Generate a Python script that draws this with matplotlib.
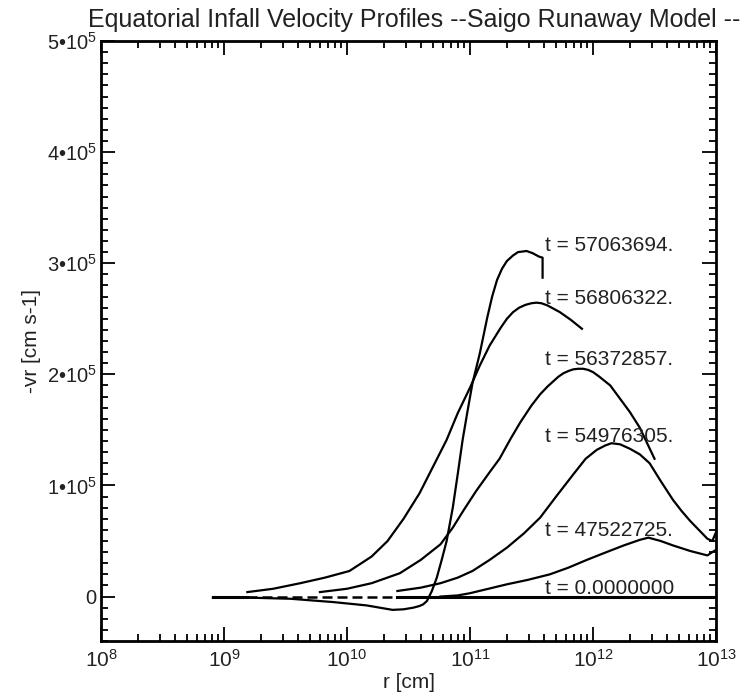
import numpy as np
import matplotlib
matplotlib.use("Agg")
import matplotlib.pyplot as plt
from matplotlib.ticker import FixedLocator, LogLocator, MultipleLocator, FixedFormatter

plt.rcParams['font.family'] = ['Liberation Sans Narrow', 'Liberation Sans', 'DejaVu Sans']
plt.rcParams['mathtext.fontset'] = 'custom'
plt.rcParams['mathtext.rm'] = 'Liberation Sans Narrow'

# ------------------------------
# DATA (log10 r [cm], -vr in units of 1e5 cm/s)
# ------------------------------
logr_t0 = [8.91, 9.19, 10.41, 13.0]
v_t0 = [0.0, 0.0, 0.0, 0.0]

logr_e = [10.76, 10.9, 11.0, 11.15, 11.30, 11.47, 11.65, 11.8, 11.95, 12.11,
          12.25, 12.38, 12.45, 12.55, 12.65, 12.79, 12.93, 12.97, 13.0]
v_e = [0.0, 0.01, 0.03, 0.07, 0.11, 0.15, 0.2, 0.26, 0.33, 0.4,
       0.46, 0.51, 0.53, 0.5, 0.46, 0.41, 0.37, 0.4, 0.42]

logr_d = [10.41, 10.6, 10.76, 10.9, 11.02, 11.16, 11.30, 11.44, 11.57, 11.7,
          11.84, 11.94, 12.03, 12.10, 12.15, 12.22, 12.30, 12.38, 12.46, 12.55,
          12.65, 12.72, 12.79, 12.86, 12.93, 12.97, 13.0]
v_d = [0.05, 0.08, 0.12, 0.17, 0.23, 0.33, 0.44, 0.57, 0.71, 0.9,
       1.1, 1.24, 1.32, 1.36, 1.38, 1.37, 1.33, 1.28, 1.2, 1.04,
       0.87, 0.77, 0.68, 0.6, 0.52, 0.5, 0.58]

logr_c = [9.78, 10.0, 10.2, 10.43, 10.6, 10.76, 10.86, 10.95, 11.05, 11.16,
          11.24, 11.33, 11.41, 11.5, 11.57, 11.63, 11.68, 11.72, 11.76, 11.8,
          11.84, 11.88, 11.92, 11.96, 12.0, 12.05, 12.14, 12.22, 12.30, 12.38,
          12.44, 12.50]
v_c = [0.04, 0.07, 0.12, 0.21, 0.33, 0.47, 0.62, 0.78, 0.95, 1.12,
       1.24, 1.42, 1.57, 1.72, 1.82, 1.89, 1.94, 1.98, 2.01, 2.03,
       2.045, 2.05, 2.05, 2.04, 2.02, 1.98, 1.9, 1.78, 1.66, 1.52,
       1.38, 1.24]

logr_b = [9.19, 9.4, 9.62, 9.82, 10.02, 10.2, 10.33, 10.46, 10.59, 10.70,
          10.81, 10.90, 11.0, 11.08, 11.16, 11.25, 11.30, 11.35, 11.40, 11.45,
          11.50, 11.54, 11.58, 11.63, 11.68, 11.73, 11.82, 11.91]
v_b = [0.04, 0.07, 0.12, 0.17, 0.23, 0.36, 0.5, 0.7, 0.93, 1.17,
       1.41, 1.65, 1.88, 2.08, 2.26, 2.42, 2.50, 2.56, 2.60, 2.625,
       2.64, 2.645, 2.64, 2.62, 2.59, 2.56, 2.49, 2.41]

logr_a = [8.91, 9.2, 9.54, 9.89, 10.16, 10.37, 10.46, 10.54, 10.59, 10.62,
          10.65, 10.69, 10.73, 10.77, 10.81, 10.86, 10.90, 10.94, 10.98, 11.02,
          11.08, 11.14, 11.18, 11.22, 11.26, 11.30, 11.35, 11.39, 11.46, 11.51,
          11.56, 11.59, 11.59]
v_a = [-0.01, -0.01, -0.02, -0.05, -0.08, -0.12, -0.115, -0.10, -0.085, -0.07,
       -0.04, 0.05, 0.17, 0.33, 0.50, 0.80, 1.10, 1.41, 1.67, 1.92,
       2.19, 2.51, 2.70, 2.85, 2.95, 3.02, 3.07, 3.10, 3.11, 3.09,
       3.06, 3.05, 2.87]

labels = ["t = 57063694.", "t = 56806322.", "t = 56372857.",
          "t = 54976305.", "t = 47522725.", "t = 0.0000000"]
label_v = [3.16, 2.68, 2.13, 1.44, 0.59, 0.07]
label_logr = 11.61

ytick_vals = [0, 1, 2, 3, 4, 5]
ytick_text = ["0", r"$\mathregular{1•10^{5}}$", r"$\mathregular{2•10^{5}}$",
              r"$\mathregular{3•10^{5}}$", r"$\mathregular{4•10^{5}}$",
              r"$\mathregular{5•10^{5}}$"]
xtick_exp = [8, 9, 10, 11, 12, 13]


def r(lr):
    return 10 ** np.array(lr)


def v(vals):
    return np.array(vals) * 1e5


# ------------------------------
# FIGURE
# ------------------------------
fig = plt.figure(figsize=(7.43, 6.94), dpi=100)
ax = fig.add_axes([0.1359, 0.0764, 0.8278, 0.8645])

lw = 1.6
ax.plot(r(logr_t0[0:2]), v(v_t0[0:2]), color='black', lw=2.2)
ax.plot(r(logr_t0[1:3]), v(v_t0[1:3]), color='black', lw=1.8, ls=(0, (4, 2)))
ax.plot(r(logr_t0[2:4]), v(v_t0[2:4]), color='black', lw=2.2)
for lr, vv in [(logr_e, v_e), (logr_d, v_d), (logr_c, v_c), (logr_b, v_b), (logr_a, v_a)]:
    ax.plot(r(lr), v(vv), color='black', lw=lw, solid_joinstyle='round')

for txt, yv in zip(labels, label_v):
    ax.text(10 ** label_logr, yv * 1e5, txt, fontsize=15, va='center', ha='left', color='#222222')

ax.set_xscale('log')
ax.set_xlim(1e8, 1e13)
ax.set_ylim(-0.4e5, 5e5)

ax.xaxis.set_major_locator(FixedLocator([10.0 ** e for e in xtick_exp]))
ax.set_xticklabels([r"$\mathregular{10^{%d}}$" % e for e in xtick_exp])
ax.xaxis.set_minor_locator(LogLocator(base=10, subs=np.arange(2, 10), numticks=20))
ax.xaxis.set_minor_formatter(plt.NullFormatter())

ax.yaxis.set_major_locator(FixedLocator([y * 1e5 for y in ytick_vals]))
ax.yaxis.set_major_formatter(FixedFormatter(ytick_text))
ax.yaxis.set_minor_locator(MultipleLocator(1e4))

ax.tick_params(which='both', direction='in', top=True, right=True, width=1.3, colors='black')
ax.tick_params(which='major', length=10)
ax.tick_params(which='minor', length=5)
ax.tick_params(axis='y', which='major', labelsize=14.5, pad=3, labelcolor='#222222')
ax.tick_params(axis='x', which='major', labelsize=15, pad=6, labelcolor='#222222')
for s in ax.spines.values():
    s.set_linewidth(2.0)

ax.set_xlabel("r [cm]", fontsize=15, color='#222222', labelpad=1)
ax.set_ylabel("-vr [cm s-1]", fontsize=15, color='#222222', labelpad=4)
fig.text(0.557, 0.971, "Equatorial Infall Velocity Profiles --Saigo Runaway Model --",
         fontsize=18, ha='center', va='center', color='#222222')

fig.savefig("out.png", dpi=100)
